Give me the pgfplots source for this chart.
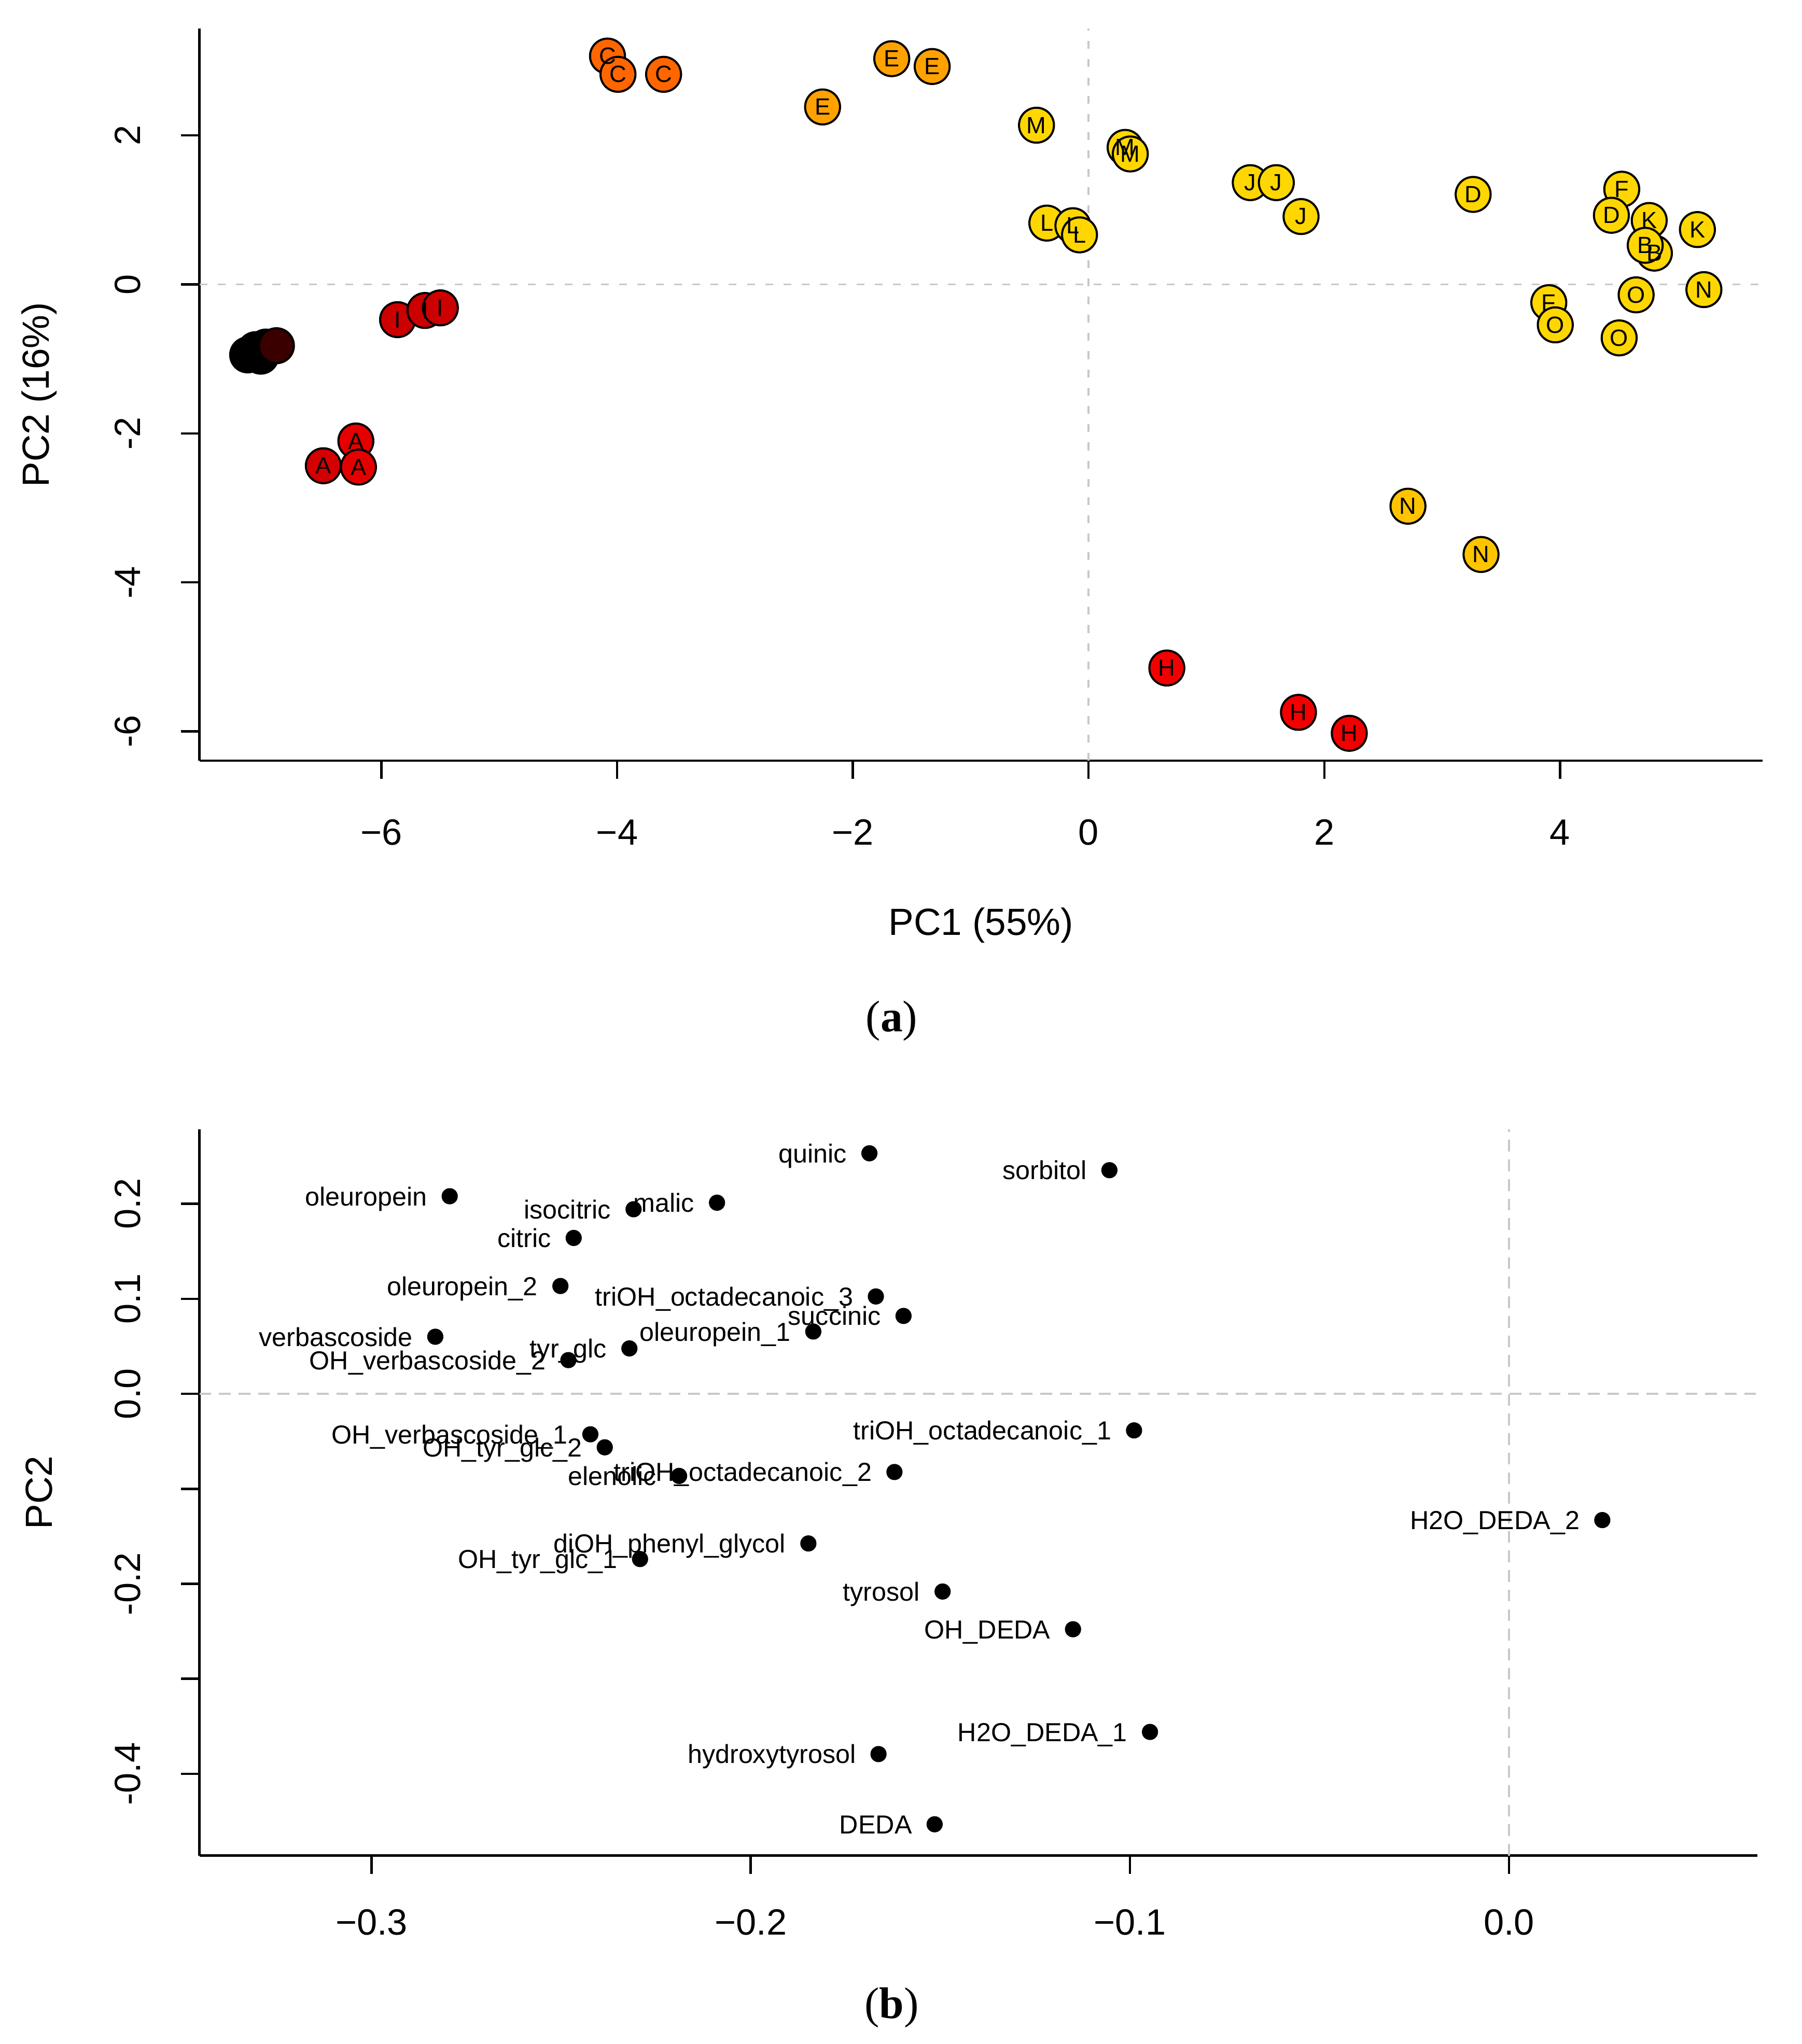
\documentclass[border=0pt]{standalone}
\usepackage{fontspec}
\setmainfont{Liberation Sans}
\newfontfamily\seriffont{Liberation Serif}
\usepackage{pgfplots}
\pgfplotsset{compat=1.18}
\definecolor{cMaroon}{HTML}{3A0000}
\definecolor{cI}{HTML}{CC0000}
\definecolor{cA}{HTML}{E50000}
\definecolor{cAd}{HTML}{D20000}
\definecolor{cH}{HTML}{F20000}
\definecolor{cC}{HTML}{FF6600}
\definecolor{cE}{HTML}{FFA200}
\definecolor{cGold}{HTML}{FFD700}
\definecolor{cN}{HTML}{FFC400}
\definecolor{dashgray}{HTML}{C8C8C8}
\pgfplotsset{
  rstyle/.style={
    scale only axis, anchor=south west, clip=false,
    axis lines*=left, axis line style={line width=0.9pt, black},
    tick align=outside, major tick length=7pt,
    tick style={line width=0.9pt, black},
    ticklabel style={font=\fontsize{14}{16}\selectfont},
    /pgf/number format/assume math mode=true,
    label style={font=\fontsize{14.5}{17}\selectfont},
  },
  circ/.style={only marks, mark=*, mark size=6.7pt, mark options={fill=#1, draw=black, line width=0.8pt}},
}
\begin{document}
\begin{tikzpicture}
\useasboundingbox (0,0) rectangle (691pt,784pt);
% ---------------- (a) ----------------
\begin{axis}[rstyle,
  at={(76.5pt,492.25pt)}, width=599.5pt, height=280.75pt,
  xmin=-7.544, xmax=5.719, ymin=-6.392, ymax=3.433,
  xtick={-6,-4,-2,0,2,4}, xticklabels={−6,−4,−2,0,2,4},
  ytick={-6,-4,-2,0,2}, yticklabels={-6,-4,-2,0,2},
  xticklabel style={anchor=center, yshift=-20.5pt},
  yticklabel style={anchor=center, xshift=-20.5pt, rotate=90},
  xlabel={PC1 (55\%)}, ylabel={PC2 (16\%)},
  xlabel style={at={(axis description cs:0.5,-0.2253)}, anchor=center},
  ylabel style={at={(axis description cs:-0.1026,0.5)}, anchor=center},
]
\addplot[circ=black] coordinates {(-7.135,-0.946) (-7.068,-0.876) (-7.024,-0.963) (-6.980,-0.841)};
\addplot[circ=cMaroon] coordinates {(-6.891,-0.823)};
\addplot[circ=cAd] coordinates {(-6.493,-2.434)};
\addplot[circ=cA] coordinates {(-6.217,-2.102) (-6.195,-2.452)};
\addplot[circ=cI] coordinates {(-5.863,-0.473) (-5.631,-0.350) (-5.500,-0.315)};
\addplot[circ=cC] coordinates {(-4.082,3.065) (-3.993,2.820) (-3.606,2.820)};
\addplot[circ=cE] coordinates {(-2.257,2.382) (-1.670,3.030) (-1.327,2.925)};
\addplot[circ=cGold] coordinates {
 (-0.442,2.137) (0.310,1.839) (0.354,1.751)
 (-0.354,0.823) (-0.133,0.788) (-0.077,0.665)
 (1.372,1.366) (1.593,1.366) (1.803,0.911)
 (3.263,1.208) (4.524,1.278) (4.436,0.928)
 (4.757,0.858) (5.166,0.736) (4.801,0.420) (4.723,0.525)
 (3.905,-0.245) (3.960,-0.543) (4.646,-0.140) (4.502,-0.718) (5.221,-0.070)};
\addplot[circ=cN] coordinates {(2.710,-2.977) (3.330,-3.625)};
\addplot[circ=cH] coordinates {(0.664,-5.149) (1.781,-5.744) (2.212,-6.025)};
\addplot[draw=dashgray, line width=0.7pt, dash pattern=on 3pt off 4pt] coordinates {(0,-6.392) (0,3.433)};
\addplot[draw=dashgray, line width=0.7pt, dash pattern=on 3pt off 4pt] coordinates {(-7.544,0) (5.719,0)};
\addplot[only marks, mark=none, nodes near coords, point meta=explicit symbolic,
  nodes near coords style={anchor=center, inner sep=0pt, text=black, font=\fontsize{9}{10}\selectfont}]
coordinates {
 (-6.493,-2.434) [A] (-6.217,-2.102) [A] (-6.195,-2.452) [A]
 (-5.863,-0.473) [I] (-5.631,-0.350) [I] (-5.500,-0.315) [I]
 (-4.082,3.065) [C] (-3.993,2.820) [C] (-3.606,2.820) [C]
 (-2.257,2.382) [E] (-1.670,3.030) [E] (-1.327,2.925) [E]
 (-0.442,2.137) [M] (0.310,1.839) [M] (0.354,1.751) [M]
 (-0.354,0.823) [L] (-0.133,0.788) [L] (-0.077,0.665) [L]
 (1.372,1.366) [J] (1.593,1.366) [J] (1.803,0.911) [J]
 (3.263,1.208) [D] (4.524,1.278) [F] (4.436,0.928) [D]
 (4.757,0.858) [K] (5.166,0.736) [K] (4.801,0.420) [B] (4.723,0.525) [B]
 (3.905,-0.245) [F] (3.960,-0.543) [O] (4.646,-0.140) [O] (4.502,-0.718) [O] (5.221,-0.070) [N]
 (2.710,-2.977) [N] (3.330,-3.625) [N]
 (0.664,-5.149) [H] (1.781,-5.744) [H] (2.212,-6.025) [H]
};
\end{axis}
\node[font=\seriffont\fontsize{17}{20}\selectfont] at (342pt,392.5pt) {(\textbf{a})};
% ---------------- (b) ----------------
\begin{axis}[rstyle,
  at={(76.5pt,72.25pt)}, width=597.5pt, height=278.5pt,
  xmin=-0.3454, xmax=0.0655, ymin=-0.4861, ymax=0.2782,
  xtick={-0.3,-0.2,-0.1,0}, xticklabels={−0.3,−0.2,−0.1,0.0},
  ytick={-0.4,-0.3,-0.2,-0.1,0,0.1,0.2}, yticklabels={-0.4,,-0.2,,0.0,0.1,0.2},
  xticklabel style={anchor=center, yshift=-18.5pt},
  yticklabel style={anchor=center, xshift=-20.5pt, rotate=90},
  ylabel={PC2},
  ylabel style={at={(axis description cs:-0.1029,0.5)}, anchor=center},
]
\addplot[draw=dashgray, line width=0.7pt, dash pattern=on 4.5pt off 3pt] coordinates {(0,-0.4861) (0,0.2782)};
\addplot[draw=dashgray, line width=0.7pt, dash pattern=on 4.5pt off 3pt] coordinates {(-0.3454,0) (0.0655,0)};
\addplot[only marks, mark=*, mark size=2.9pt, black, nodes near coords, point meta=explicit symbolic,
  nodes near coords style={anchor=base east, inner sep=0pt, xshift=-8.5pt, yshift=-3.6pt, text=black, font=\fontsize{10}{12}\selectfont}]
coordinates {
 (-0.1687,0.2532) [quinic]
 (-0.1054,0.2354) [sorbitol]
 (-0.2794,0.2080) [oleuropein]
 (-0.2309,0.1943) [isocitric]
 (-0.2089,0.2012) [malic]
 (-0.2467,0.1641) [citric]
 (-0.2502,0.1135) [oleuropein\_2]
 (-0.1670,0.1025) [triOH\_octadecanoic\_3]
 (-0.1597,0.0820) [succinic]
 (-0.2832,0.0601) [verbascoside]
 (-0.1835,0.0656) [oleuropein\_1]
 (-0.2320,0.0478) [tyr\_glc]
 (-0.2481,0.0355) [OH\_verbascoside\_2]
 (-0.2423,-0.0426) [OH\_verbascoside\_1]
 (-0.2385,-0.0563) [OH\_tyr\_glc\_2]
 (-0.0989,-0.0385) [triOH\_octadecanoic\_1]
 (-0.2189,-0.0864) [elenolic]
 (-0.1621,-0.0823) [triOH\_octadecanoic\_2]
 (0.0246,-0.1329) [H2O\_DEDA\_2]
 (-0.1848,-0.1575) [diOH\_phenyl\_glycol]
 (-0.2292,-0.1739) [OH\_tyr\_glc\_1]
 (-0.1494,-0.2081) [tyrosol]
 (-0.1150,-0.2478) [OH\_DEDA]
 (-0.0947,-0.3559) [H2O\_DEDA\_1]
 (-0.1663,-0.3792) [hydroxytyrosol]
 (-0.1515,-0.4531) [DEDA]
};
\end{axis}
\node[font=\seriffont\fontsize{17}{20}\selectfont] at (342pt,14pt) {(\textbf{b})};
\end{tikzpicture}
\end{document}
